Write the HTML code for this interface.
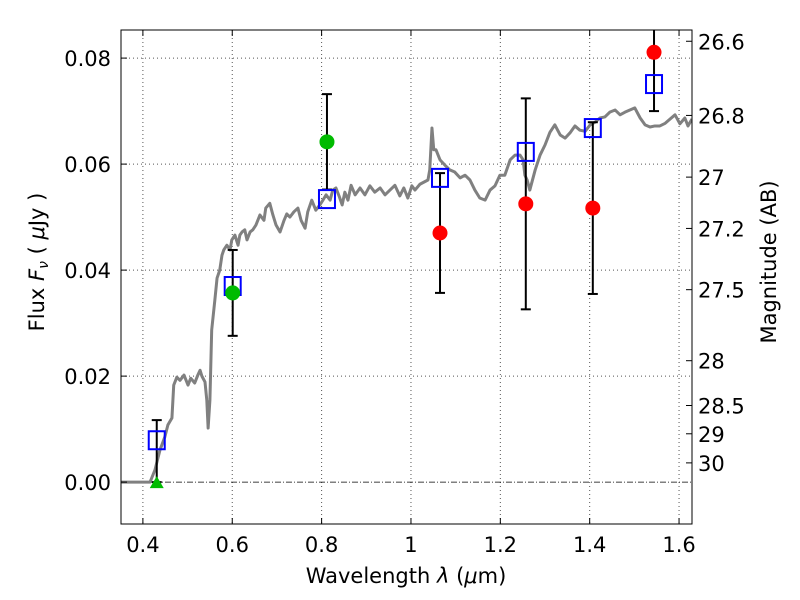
<!DOCTYPE html>
<html><head><meta charset="utf-8"><style>
body{margin:0;background:#fff;}
svg{display:block;font-family:"DejaVu Sans","Liberation Sans",sans-serif;}
</style></head><body>
<svg id="chart" width="800" height="600" xmlns="http://www.w3.org/2000/svg">
<rect width="800" height="600" fill="#fff"/>
</svg>
<script>
const specLam=[0.351,0.400,0.416,0.427,0.438,0.449,0.456,0.465,0.469,0.476,0.483,0.492,0.501,0.507,0.516,0.523,0.528,0.532,0.539,0.543,0.546,0.550,0.554,0.561,0.566,0.572,0.577,0.581,0.588,0.595,0.599,0.606,0.613,0.617,0.622,0.628,0.633,0.640,0.646,0.653,0.662,0.671,0.675,0.684,0.691,0.698,0.707,0.716,0.722,0.729,0.738,0.747,0.754,0.763,0.769,0.778,0.787,0.796,0.803,0.810,0.819,0.825,0.832,0.839,0.846,0.852,0.859,0.866,0.875,0.886,0.897,0.908,0.919,0.931,0.942,0.953,0.964,0.975,0.984,0.993,1.002,1.009,1.020,1.029,1.038,1.042,1.047,1.051,1.056,1.065,1.076,1.087,1.098,1.110,1.121,1.132,1.143,1.154,1.166,1.177,1.188,1.199,1.210,1.222,1.233,1.244,1.251,1.255,1.260,1.266,1.278,1.289,1.300,1.311,1.322,1.334,1.345,1.356,1.367,1.378,1.390,1.401,1.412,1.423,1.434,1.445,1.457,1.468,1.479,1.490,1.501,1.513,1.524,1.535,1.546,1.557,1.569,1.580,1.591,1.602,1.613,1.620,1.629];
const specFlux=[0,0,0,0.0023,0.0060,0.0085,0.0108,0.0121,0.0183,0.0198,0.0192,0.0202,0.0183,0.0196,0.0187,0.0202,0.0211,0.0200,0.0189,0.0155,0.0102,0.0155,0.0287,0.0343,0.0385,0.0400,0.0428,0.0438,0.0447,0.0438,0.0457,0.0466,0.0447,0.0466,0.0472,0.0476,0.0457,0.0472,0.0476,0.0485,0.0504,0.0494,0.0517,0.0526,0.0504,0.0485,0.0472,0.0494,0.0506,0.0500,0.0510,0.0517,0.0494,0.0479,0.0510,0.0532,0.0513,0.0523,0.0532,0.0542,0.0532,0.0551,0.0555,0.0540,0.0523,0.0547,0.0532,0.0560,0.0542,0.0555,0.0542,0.0559,0.0547,0.0555,0.0542,0.0551,0.0560,0.0540,0.0555,0.0536,0.0559,0.0551,0.0562,0.0566,0.0570,0.0589,0.0668,0.0627,0.0627,0.0608,0.0598,0.0589,0.0585,0.0574,0.0579,0.0570,0.0551,0.0536,0.0532,0.0551,0.0559,0.0579,0.0579,0.0608,0.0617,0.0617,0.0608,0.0579,0.0570,0.0551,0.0589,0.0617,0.0636,0.0660,0.0674,0.0655,0.0649,0.0659,0.0672,0.0664,0.0662,0.0674,0.0679,0.0687,0.0689,0.0698,0.0702,0.0693,0.0698,0.0702,0.0706,0.0687,0.0674,0.0670,0.0672,0.0672,0.0677,0.0685,0.0693,0.0676,0.0687,0.0672,0.0685,0.0700];
const photLam=[0.431,0.601,0.812,1.065,1.257,1.407,1.544];
const modelFlux=[0.0079,0.0370,0.0534,0.0574,0.0623,0.0668,0.0751];
const redLam=[1.065,1.257,1.407,1.544];
const redFlux=[0.0470,0.0525,0.0517,0.0811];
const redErr=[0.0113,0.0199,0.0162,0.0111];
const greenLam=[0.601,0.812];
const greenFlux=[0.0357,0.0642];
const greenErr=[0.0081,0.0090];
const triLam=[0.431];
const triFlux=[0.0];
const triErrUp=[0.0117];
const xTicks=[0.4,0.6,0.8,1.0,1.2,1.4,1.6];
const xTickLabels=["0.4","0.6","0.8","1","1.2","1.4","1.6"];
const yTicks=[0,0.02,0.04,0.06,0.08];
const yTickLabels=["0.00","0.02","0.04","0.06","0.08"];
const magTicks=[26.6,26.8,27,27.2,27.5,28,28.5,29,30];
const magTickLabels=["26.6","26.8","27","27.2","27.5","28","28.5","29","30"];

const L=121,R=692,T=30,B=524;
const xmin=0.351,xmax=1.629,ymin=-0.0079,ymax=0.0853;
const X=v=>L+(v-xmin)/(xmax-xmin)*(R-L);
const Y=v=>B-(v-ymin)/(ymax-ymin)*(B-T);
const magToFlux=m=>Math.pow(10,(23.9-m)/2.5);
const NS="http://www.w3.org/2000/svg";
const svg=document.getElementById('chart');
function mk(tag,attrs,parent){const e=document.createElementNS(NS,tag);for(const k in attrs)e.setAttribute(k,attrs[k]);(parent||svg).appendChild(e);return e;}

const clip=mk('clipPath',{id:'pc'});mk('rect',{x:L,y:T,width:R-L,height:B-T},clip);
const grid=mk('g',{});


xTicks.forEach(v=>{mk('line',{x1:X(v),x2:X(v),y1:T,y2:B,stroke:'#555','stroke-width':1,'stroke-dasharray':'1,3'},grid);});
yTicks.forEach(v=>{if(v!==0)mk('line',{x1:L,x2:R,y1:Y(v),y2:Y(v),stroke:'#555','stroke-width':1,'stroke-dasharray':'1,3'},grid);});
const zl=mk('line',{x1:L,x2:R,y1:Y(0),y2:Y(0),stroke:'#000','stroke-width':0.8,'stroke-dasharray':'6,2,1,2'});



const plot=mk('g',{'clip-path':'url(#pc)'});
const sp=mk('polyline',{points:specLam.map((l,i)=>X(l)+','+Y(specFlux[i])).join(' '),fill:'none',stroke:'#808080','stroke-width':3,'stroke-linejoin':'round'},plot);



function errbar(l,lo,hi){const g=mk('g',{stroke:'#000','stroke-width':2},plot);


mk('line',{x1:X(l),x2:X(l),y1:Y(lo),y2:Y(hi)},g);
mk('line',{x1:X(l)-5,x2:X(l)+5,y1:Y(lo),y2:Y(lo)},g);
mk('line',{x1:X(l)-5,x2:X(l)+5,y1:Y(hi),y2:Y(hi)},g);}
triLam.forEach((l,i)=>errbar(l,triFlux[i],triFlux[i]+triErrUp[i]));
greenLam.forEach((l,i)=>errbar(l,greenFlux[i]-greenErr[i],greenFlux[i]+greenErr[i]));
redLam.forEach((l,i)=>errbar(l,redFlux[i]-redErr[i],redFlux[i]+redErr[i]));

photLam.forEach((l,i)=>{const r=mk('rect',{x:X(l)-8,y:Y(modelFlux[i])-9,width:16,height:18,fill:'none',stroke:'#0000ff','stroke-width':2},plot);

});
greenLam.forEach((l,i)=>{const c=mk('circle',{cx:X(l),cy:Y(greenFlux[i]),r:7.5,fill:'#00bb00'},plot);

});
redLam.forEach((l,i)=>{const c=mk('circle',{cx:X(l),cy:Y(redFlux[i]),r:7.5,fill:'#ff0000'},plot);

});
triLam.forEach((l,i)=>{const x=X(l),y=Y(triFlux[i]);const p=mk('polygon',{points:`${x-7},${y+6} ${x+7},${y+6} ${x},${y-6}`,fill:'#00bb00'},plot);

});

const fr=mk('rect',{x:L,y:T,width:R-L,height:B-T,fill:'none',stroke:'#000','stroke-width':1});



xTicks.forEach((v,i)=>{mk('line',{x1:X(v),x2:X(v),y1:B,y2:B-6,stroke:'#000'});mk('line',{x1:X(v),x2:X(v),y1:T,y2:T+6,stroke:'#000'});
const t=mk('text',{x:X(v),y:B+28,'font-size':21,'text-anchor':'middle'});t.textContent=xTickLabels[i];

});
yTicks.forEach((v,i)=>{mk('line',{x1:L,x2:L+6,y1:Y(v),y2:Y(v),stroke:'#000'});
const t=mk('text',{x:L-10,y:Y(v)+8,'font-size':21,'text-anchor':'end'});t.textContent=yTickLabels[i];

});
magTicks.forEach((m,i)=>{const y=Y(magToFlux(m));mk('line',{x1:R,x2:R-6,y1:y,y2:y,stroke:'#000'});
const t=mk('text',{x:R+6,y:y+8,'font-size':21});t.textContent=magTickLabels[i];

});

const xl=mk('text',{x:406,y:583,'font-size':21,'text-anchor':'middle'});
xl.innerHTML='Wavelength  <tspan font-style="italic">λ</tspan> (<tspan font-style="italic">μ</tspan>m)';


const yl=mk('text',{x:0,y:0,'font-size':21,'text-anchor':'middle',transform:'translate(44,262) rotate(-90)'});
yl.innerHTML='Flux  <tspan font-style="italic">F</tspan><tspan font-style="italic" font-size="14" dy="4">ν</tspan><tspan dy="-4">  (  </tspan><tspan font-style="italic">μ</tspan>Jy )';


const ml=mk('text',{x:0,y:0,'font-size':21,'text-anchor':'middle',transform:'translate(776,262) rotate(-90)'});
ml.textContent='Magnitude (AB)';


</script>
</body></html>
